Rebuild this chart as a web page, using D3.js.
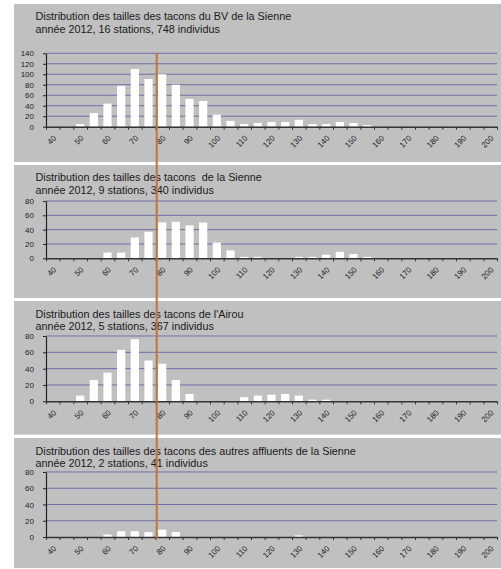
<!DOCTYPE html>
<html>
<head>
<meta charset="utf-8">
<script src="https://cdn.jsdelivr.net/npm/d3@7"></script>
<style>
  body { margin: 0; background: #fff; }
  svg { display: block; font-family: "Liberation Sans", Arial, sans-serif; }
</style>
</head>
<body>
<div class="canvas"></div>
<script>
// size classes (mm)
const classes = ['40','45','50','55','60','65','70','75','80','85','90','95','100','105','110','115',
  '120','125','130','135','140','145','150','155','160','165','170','175','180','185','190','195','200'];
const labelClasses = ['40','50','60','70','80','90','100','110','120','130','140','150','160','170','180','190','200'];

// counts per class
const bvSienne = [0,0,5,26,44,78,110,91,100,80,53,49,23,11,5,7,9,9,13,5,5,9,7,3,0,0,0,0,0,0,0,0,0];
const sienne   = [0,0,0,0,8,8,29,37,50,51,46,50,22,11,2,2,0,0,2,2,5,9,6,2,0,0,0,0,0,0,0,0,0];
const airou    = [0,0,7,26,35,63,76,50,46,26,9,0,0,0,5,7,8,9,7,2,2,0,0,0,0,0,0,0,0,0,0,0,0];
const autres   = [0,0,0,0,3,7,7,6,9,6,0,0,0,0,0,0,0,0,2,0,0,0,0,0,0,0,0,0,0,0,0,0,0];

const titleLine1 = [
  'Distribution des tailles des tacons du BV de la Sienne',
  'Distribution des tailles des tacons  de la Sienne',
  "Distribution des tailles des tacons de l'Airou",
  'Distribution des tailles des tacons des autres affluents de la Sienne'
];
const titleLine2 = [
  'année 2012, 16 stations, 748 individus',
  'année 2012, 9 stations, 340 individus',
  'année 2012, 5 stations, 367 individus',
  'année 2012, 2 stations, 41 individus'
];
const yTicksBV = [0,20,40,60,80,100,120,140];
const yTicksSmall = [0,20,40,60,80];
const refLength = 78; // vertical reference line (mm)

const series = [bvSienne, sienne, airou, autres];
const yTicks = [yTicksBV, yTicksSmall, yTicksSmall, yTicksSmall];

const width = 501;
const height = 569;
const left = 46;
const right = 497;

// panel layout
const layout = [
  {top: 4,   bottom: 162, yTop: 53.3, yZero: 126.7, t1: 20,    t2: 32.7},
  {top: 165, bottom: 298, yTop: 201,  yZero: 258.3, t1: 181,   t2: 193.7},
  {top: 301, bottom: 434.7, yTop: 336, yZero: 401.3, t1: 317.7, t2: 330},
  {top: 438, bottom: 568, yTop: 472,  yZero: 537,   t1: 455,   t2: 467.3}
];

const svg = d3.select('.canvas')
  .append('svg')
  .attr('width', width)
  .attr('height', height);

const x = d3.scaleBand()
  .domain(classes)
  .range([left, right])
  .paddingInner(0.4)
  .paddingOuter(0.2);

// slot index scale for the tick marks between classes
const xSlot = d3.scaleLinear()
  .domain([0, classes.length])
  .range([left, right]);

// continuous length scale (class centre = class value)
const xLen = d3.scaleLinear()
  .domain([+classes[0], +classes[classes.length - 1]])
  .range([x(classes[0]) + x.bandwidth() / 2, x(classes[classes.length - 1]) + x.bandwidth() / 2]);

layout.forEach((p, k) => {
  const data = series[k];
  const ticks = yTicks[k];
  const g = svg.append('g');

  g.append('rect')
    .attr('x', 14)
    .attr('y', p.top)
    .attr('width', width - 14)
    .attr('height', p.bottom - p.top)
    .attr('fill', '#c0c0c0');

  g.append('text')
    .attr('x', 35.5)
    .attr('y', p.t1)
    .attr('font-size', 10.8)
    .attr('fill', '#1a1a1a')
    .style('white-space', 'pre')
    .text(titleLine1[k]);

  g.append('text')
    .attr('x', 35.5)
    .attr('y', p.t2)
    .attr('font-size', 10.8)
    .attr('fill', '#1a1a1a')
    .text(titleLine2[k]);

  const y = d3.scaleLinear()
    .domain([0, d3.max(ticks)])
    .range([p.yZero, p.yTop]);

  // gridlines
  g.selectAll('line.grid')
    .data(ticks.filter(t => t > 0))
    .enter()
    .append('line')
    .attr('class', 'grid')
    .attr('x1', left)
    .attr('x2', right)
    .attr('y1', d => y(d))
    .attr('y2', d => y(d))
    .attr('stroke', '#6e6ea6')
    .attr('stroke-width', 1);

  // bars
  g.selectAll('rect.bar')
    .data(classes.map((c, i) => ({c, v: data[i]})).filter(d => d.v > 0))
    .enter()
    .append('rect')
    .attr('class', 'bar')
    .attr('x', d => x(d.c))
    .attr('width', x.bandwidth())
    .attr('y', d => y(d.v))
    .attr('height', d => y(0) - y(d.v))
    .attr('fill', '#ffffff');

  // y axis
  const yAxis = d3.axisLeft(y)
    .tickValues(ticks)
    .tickSize(3)
    .tickSizeOuter(0)
    .tickPadding(9);

  const gy = g.append('g')
    .attr('transform', `translate(${left},0)`)
    .call(yAxis);
  gy.select('.domain').attr('stroke', '#222').attr('stroke-width', 1.2);
  gy.selectAll('.tick line').attr('stroke', '#222');
  gy.selectAll('text')
    .attr('font-family', '"Liberation Sans", Arial, sans-serif')
    .attr('font-size', 8)
    .attr('fill', '#222');

  // x axis: tick marks between classes
  const xTickAxis = d3.axisBottom(xSlot)
    .tickValues(d3.range(classes.length + 1))
    .tickFormat('')
    .tickSize(3)
    .tickSizeOuter(0);

  const gx = g.append('g')
    .attr('transform', `translate(0,${p.yZero})`)
    .call(xTickAxis);
  gx.select('.domain').attr('stroke', '#333').attr('stroke-width', 1.5);
  gx.selectAll('.tick line').attr('stroke', '#333');

  // x axis: class labels
  const xLabelAxis = d3.axisBottom(x)
    .tickValues(labelClasses)
    .tickSize(0)
    .tickPadding(0);

  const gl = g.append('g')
    .attr('transform', `translate(0,${p.yZero})`)
    .call(xLabelAxis);
  gl.select('.domain').remove();
  gl.selectAll('text')
    .attr('font-family', '"Liberation Sans", Arial, sans-serif')
    .attr('font-size', 8)
    .attr('fill', '#222')
    .attr('text-anchor', 'end')
    .attr('dy', '0.35em')
    .attr('transform', 'translate(2,10) rotate(-45)');
});

// vertical reference line across all panels
svg.append('line')
  .attr('x1', xLen(refLength))
  .attr('x2', xLen(refLength))
  .attr('y1', layout[0].yTop)
  .attr('y2', layout[3].yZero + 1)
  .attr('stroke', '#c0733a')
  .attr('stroke-width', 2);
</script>
</body>
</html>
